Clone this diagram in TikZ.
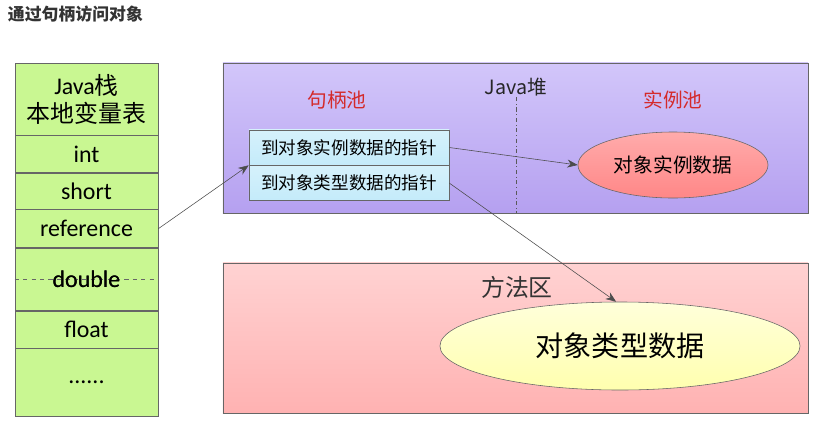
\documentclass[tikz,border=0pt]{standalone}
\usepackage{fontspec}
\setmainfont{Carlito}
\newfontfamily\cjk{Noto Sans CJK SC}
\usetikzlibrary{positioning,arrows.meta,shapes.geometric}
\definecolor{stackgreen}{HTML}{C9F792}
\definecolor{heaptop}{HTML}{D2C6FA}
\definecolor{heapbot}{HTML}{B5A0F0}
\definecolor{methtop}{HTML}{FFD2D2}
\definecolor{methbot}{HTML}{FFB2B2}
\definecolor{handlecol}{HTML}{C4EBFA}
\definecolor{instcol}{HTML}{FF8787}
\definecolor{typecol}{HTML}{FFFFC2}
\definecolor{poolred}{HTML}{D42A2A}
\tikzset{
  cell/.style={draw=black!60, fill=stackgreen, minimum width=3.575cm, inner sep=0pt, font=\fontsize{17}{21}\selectfont},
  area/.style={draw=black!60, minimum width=14.625cm, minimum height=3.75cm},
  hbox/.style={draw=black!60, fill=handlecol, minimum width=5cm, minimum height=0.875cm, inner sep=0pt, font=\cjk\fontsize{12.5}{15}\selectfont},
  pool/.style={text=poolred, font=\cjk\fontsize{14}{17}\selectfont},
  arr/.style={-{Stealth[length=2.6mm, width=2mm]}, black!70, thin}}

\begin{document}
\begin{tikzpicture}[x=0.025cm, y=-0.025cm]
\useasboundingbox (0,0) rectangle (816,422);
\node[anchor=west, text=black!80, font=\cjk\bfseries\fontsize{12}{14}\selectfont] (title) at (3,14) {通过句柄访问对象};

% Java stack
\node[cell, minimum height=1.8cm, align=center] (hdr) at (86.5,99) {Java{\cjk 栈}\\[-1pt]{\cjk 本地变量表}};
\node[cell, minimum height=0.925cm, below=0pt of hdr] (int) {int};
\node[cell, minimum height=0.9cm, below=0pt of int] (short) {short};
\node[cell, minimum height=0.95cm, below=0pt of short] (ref) {reference};
\node[cell, minimum height=1.55cm, below=0pt of ref] (dbl) {double};
\node[cell, minimum height=0.925cm, below=0pt of dbl] (flt) {float};
\node[cell, minimum height=1.7cm, below=0pt of flt] (dots) {......};
\draw[black!60, dashed] (dbl.west) -- (dbl.east);
\node[font=\fontsize{17}{21}\selectfont] at (dbl) {double};

% Java heap
\node[area, top color=heaptop, bottom color=heapbot] (heap) at (515.5,138) {};
\node[font=\cjk\fontsize{14}{17}\selectfont, text=black!85] (heaplbl) at (516,87) {Java堆};
\coordinate (divtop) at (516,97);
\draw[black!65, dash dot] (divtop) -- (divtop |- heap.south);
\node[pool] (hpool) at (337,100) {句柄池};
\node[pool] (ipool) at (673,100) {实例池};
\node[hbox, top color=handlecol!70, bottom color=handlecol] (h1) at (349,147.5) {到对象实例数据的指针};
\node[hbox, top color=handlecol!70, bottom color=handlecol, below=0pt of h1] (h2) {到对象类型数据的指针};
\node[ellipse, draw=black!60, top color=instcol!70, bottom color=instcol, minimum width=4.75cm, minimum height=1.65cm, font=\cjk\fontsize{14}{17}\selectfont] (idata) at (673,165) {对象实例数据};

% method area
\node[area, top color=methtop, bottom color=methbot] (meth) at (515.5,338) {};
\node[font=\cjk\fontsize{17}{20}\selectfont, text=black!80] (methlbl) at (517,287) {方法区};
\node[ellipse, draw=black!60, top color=typecol!60, bottom color=typecol!90!yellow, minimum width=9cm, minimum height=2.2cm, font=\cjk\fontsize{20}{24}\selectfont] (tdata) at (620,346) {对象类型数据};

% pointers
\draw[arr] (ref.east) -- (h1.south west);
\draw[arr] (h1.east) -- (idata.west);
\draw[arr] (h2.east) -- (tdata.95);
\end{tikzpicture}
\end{document}
